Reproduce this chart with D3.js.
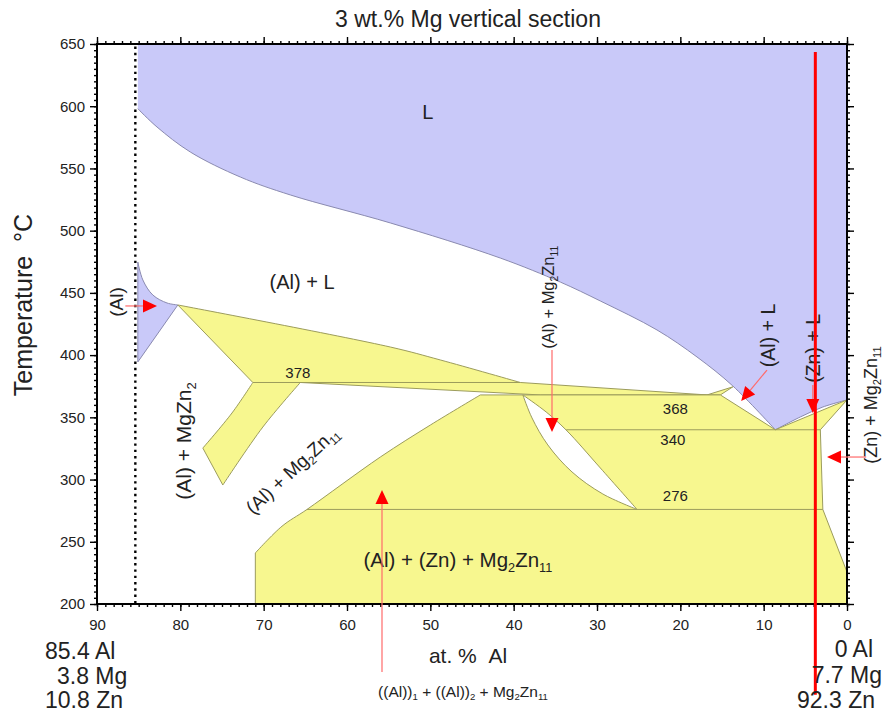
<!DOCTYPE html>
<html>
<head>
<meta charset="utf-8">
<script src="https://cdn.jsdelivr.net/npm/d3@7"></script>
<style>
  body { margin: 0; background: #fff; }
  svg { font-family: "Liberation Sans", Arial, sans-serif; }
</style>
</head>
<body>
<svg width="885" height="714"></svg>
<script>
window.addEventListener('DOMContentLoaded', function() {

// all points are [at.% Al, temperature °C]
const liquidusAl = [[85.1,598],[82.8,583.3],[78.8,563.2],[72.8,543.1],[66.8,528.7],[54.8,506.2],
  [41.6,478],[34.4,458.7],[29.6,443.5],[22.8,420.2],[18.0,398.5],[13.7,375.2],[8.6,340]]
const liquidusZn = [[8.6,340],[5.6,350.3],[2.9,358.3],[0,364]]
const alSolvusTop = [[85.1,474.8],[84.5,460.4],[83.3,448.3],[81.6,441.9],[80.3,440.3]]
const alSolvusLow = [[80.3,440.3],[85.1,394.5]]
const wedgeTop = [[80.3,440.3],[54.8,406.5],[48.8,396.1],[39.2,378]]
const stripLow = [[16.8,368],[36.8,368],[65.6,378]]
const branchIn = [[65.6,378],[70.1,342.2],[74.9,295.6]]
const branchOut = [[77.3,325.3],[73.8,353.5],[71.3,378]]
const smallTri = [[16.8,368],[13.7,374.5],[15.2,368]]
const lowerEdge = [[71.0,200],[71.0,241]]
const lowerLeft = [[71.0,241],[67.8,262.5],[64.8,276],[56.0,318.1],[50.0,343.8],[44.0,368]]
const lowerTop = [[44.0,368],[15.2,368],[8.6,340],[0,364],[3.2,340],[2.9,276],[0,225.7],[0,200]]
const lensLeft = [[38.9,368],[37.8,349.5],[35.9,327.8],[33.0,306.1],[29.3,288.4],[25.2,276]]
const lensRight = [[25.2,276],[29.6,309.3],[33.7,339.8],[36.1,354.3],[38.9,368]]
const isotherms = [[378,71.3,39.2],[340,33.7,3.2],[276,64.8,2.9]]
const alloyLine = 85.4
const sectionLine = [[3.8,643.6],[3.8,127]]

const xTicks = [90,80,70,60,50,40,30,20,10,0]
const yTicks = [200,250,300,350,400,450,500,550,600,650]

// [text, at.% Al, T, rotation, font size]
const regionLabels = [
  ['L',50.3,595.4,0,20],
  ['(Al) + L',65.4,458.7,0,20],
  ['(Al)',87.7,442.7,-90,19],
  ['(Al) + MgZn{2}',79.6,331,-90,21],
  ['(Al) + Mg{2}Zn{11}',66.6,307.7,-43,19],
  ['(Al) + (Zn) + Mg{2}Zn{11}',46.7,235.3,0,20.5],
  ['(Al) + Mg{2}Zn{11}',35.8,446.4,-90,16.5],
  ['(Al) + L',9.4,415.8,-90,19.5],
  ['(Zn) + L',4.1,405.4,-90,19.5],
  ['(Zn) + Mg{2}Zn{11}',-2.8,359.9,-90,18]
]
const tempLabels = [['378',65.9,385.6],['368',20.6,357.1],['340',20.9,331.8],['276',20.6,286.8]]
// [from, to]
const arrows = [
  [[86.6,439.5],[82.8,439.5]],
  [[35.4,404.1],[35.4,338.2]],
  [[9.6,388],[12.7,363.1]],
  [[4.1,375.9],[4.1,353.4]],
  [[-2.3,318.1],[2.4,318.1]],
  [[55.8,145.3],[55.8,291.6]]
]

const svg = d3.select('svg')
const margin = { top: 44, right: 38, bottom: 110, left: 97 }
const width = +svg.attr('width')
const height = +svg.attr('height')

const x = d3.scaleLinear().domain([90, 0]).range([margin.left, width - margin.right])
const y = d3.scaleLinear().domain([200, 650]).range([height - margin.bottom, margin.top])

const blue = '#c9c9f9'
const yellow = '#f7f78f'
const olive = '#9c9c5c'

let pathFrom = (segs) => {
    return segs.map((s, i) => {
        let l = d3.line().x(d => x(d[0])).y(d => y(d[1]))
            .curve(s.c ? d3.curveCatmullRom.alpha(0.5) : d3.curveLinear)
        let p = l(s.p)
        return i ? p.replace(/^M/, 'L') : p
    }).join('') + 'Z'
}

let richText = (el, s, fs) => {
    let down = false
    s.split(/(\{[^}]*\})/).filter(t => t).forEach(t => {
        let sub = t[0] === '{'
        let ts = el.append('tspan').text(sub ? t.slice(1, -1) : t)
        if (sub) {
            ts.attr('font-size', fs * 0.62)
            if (!down) { ts.attr('dy', fs * 0.22); down = true }
        } else if (down) {
            ts.attr('dy', -fs * 0.22); down = false
        }
    })
}

// liquid
svg.append('path')
    .attr('d', pathFrom([
        { p: [[85.1, 650], [0, 650], [0, 364]] },
        { p: liquidusZn.slice().reverse(), c: true },
        { p: liquidusAl.slice().reverse(), c: true }
    ]))
    .attr('fill', blue)
svg.append('path').attr('d', d3.line().x(d => x(d[0])).y(d => y(d[1])).curve(d3.curveCatmullRom.alpha(0.5))(liquidusAl))
    .attr('fill', 'none').attr('stroke', '#8a8ab0').attr('stroke-width', 1)
svg.append('path').attr('d', d3.line().x(d => x(d[0])).y(d => y(d[1])).curve(d3.curveCatmullRom.alpha(0.5))(liquidusZn))
    .attr('fill', 'none').attr('stroke', '#8a8ab0').attr('stroke-width', 1)

// (Al)
svg.append('path')
    .attr('d', pathFrom([{ p: alSolvusTop, c: true }, { p: alSolvusLow }]))
    .attr('fill', blue).attr('stroke', '#8a8ab0').attr('stroke-width', 1)

// three phase regions
svg.append('path')
    .attr('d', pathFrom([
        { p: wedgeTop, c: true },
        { p: [[39.2, 378], [16.8, 368]] },
        { p: stripLow },
        { p: branchIn, c: true },
        { p: branchOut, c: true },
        { p: [[71.3, 378], [80.3, 440.3]] }
    ]))
    .attr('fill', yellow).attr('stroke', olive).attr('stroke-width', 1)

svg.append('path').attr('d', pathFrom([{ p: smallTri }]))
    .attr('fill', yellow).attr('stroke', olive).attr('stroke-width', 1)

svg.append('path')
    .attr('d', pathFrom([{ p: lowerEdge }, { p: lowerLeft, c: true }, { p: lowerTop }]))
    .attr('fill', yellow).attr('stroke', olive).attr('stroke-width', 1)

svg.append('path')
    .attr('d', pathFrom([{ p: lensLeft, c: true }, { p: lensRight, c: true }]))
    .attr('fill', '#fff').attr('stroke', olive).attr('stroke-width', 1)

svg.selectAll('line.iso').data(isotherms).enter().append('line')
    .attr('class', 'iso')
    .attr('x1', d => x(d[1])).attr('x2', d => x(d[2]))
    .attr('y1', d => y(d[0])).attr('y2', d => y(d[0]))
    .attr('stroke', olive).attr('stroke-width', 1)

// alloy composition
svg.append('line')
    .attr('x1', x(alloyLine)).attr('x2', x(alloyLine))
    .attr('y1', y(648)).attr('y2', y(200))
    .attr('stroke', '#000').attr('stroke-width', 2.4)
    .attr('stroke-dasharray', '2.4 3.9')

// axes
let axisStyle = (g) => {
    g.select('.domain').remove()
    g.selectAll('line').attr('stroke', '#000').attr('stroke-width', 1.4)
    g.selectAll('text').attr('font-size', 15).attr('fill', '#222').attr('font-family', 'Liberation Sans, Arial, sans-serif')
}
let bottom = height - margin.bottom
let right = width - margin.right

svg.append('g').attr('transform', 'translate(0,' + bottom + ')')
    .call(d3.axisBottom(x).tickValues(d3.range(0, 91, 1)).tickSize(3).tickFormat('')).call(axisStyle)
svg.append('g').attr('transform', 'translate(0,' + bottom + ')')
    .call(d3.axisBottom(x).tickValues(xTicks).tickSize(7).tickPadding(8).tickFormat(d3.format('d'))).call(axisStyle)
svg.append('g').attr('transform', 'translate(0,' + margin.top + ')')
    .call(d3.axisTop(x).tickValues(d3.range(0, 91, 1)).tickSize(3).tickFormat('')).call(axisStyle)
svg.append('g').attr('transform', 'translate(0,' + margin.top + ')')
    .call(d3.axisTop(x).tickValues(xTicks).tickSize(7).tickFormat('')).call(axisStyle)
svg.append('g').attr('transform', 'translate(' + margin.left + ',0)')
    .call(d3.axisLeft(y).tickValues(d3.range(200, 651, 5)).tickSize(3).tickFormat('')).call(axisStyle)
svg.append('g').attr('transform', 'translate(' + margin.left + ',0)')
    .call(d3.axisLeft(y).tickValues(yTicks).tickSize(7).tickPadding(5)).call(axisStyle)
svg.append('g').attr('transform', 'translate(' + right + ',0)')
    .call(d3.axisRight(y).tickValues(d3.range(200, 651, 5)).tickSize(3).tickFormat('')).call(axisStyle)
svg.append('g').attr('transform', 'translate(' + right + ',0)')
    .call(d3.axisRight(y).tickValues(yTicks).tickSize(7).tickFormat('')).call(axisStyle)

svg.append('rect')
    .attr('x', margin.left).attr('y', margin.top)
    .attr('width', right - margin.left).attr('height', bottom - margin.top)
    .attr('fill', 'none').attr('stroke', '#000').attr('stroke-width', 2)

// region labels
regionLabels.forEach(d => {
    let t = svg.append('text')
        .attr('transform', 'translate(' + x(d[1]) + ',' + y(d[2]) + ') rotate(' + d[3] + ')')
        .attr('text-anchor', 'middle')
        .attr('dy', '0.35em')
        .attr('font-size', d[4])
        .attr('fill', '#222')
    richText(t, d[0], d[4])
})

svg.selectAll('text.temp').data(tempLabels).enter().append('text')
    .attr('class', 'temp')
    .attr('x', d => x(d[1])).attr('y', d => y(d[2]))
    .attr('dy', '0.35em')
    .attr('text-anchor', 'middle')
    .attr('font-size', 15)
    .attr('fill', '#222')
    .text(d => d[0])

// arrows
arrows.forEach(a => {
    let x1 = x(a[0][0]), y1 = y(a[0][1]), x2 = x(a[1][0]), y2 = y(a[1][1])
    let ang = Math.atan2(y2 - y1, x2 - x1)
    let len = 14, hw = 6.5
    let bx = x2 - len * Math.cos(ang), by = y2 - len * Math.sin(ang)
    svg.append('line')
        .attr('x1', x1).attr('y1', y1).attr('x2', bx).attr('y2', by)
        .attr('stroke', '#ff6a6a').attr('stroke-width', 1.2)
    svg.append('path')
        .attr('d', 'M' + x2 + ',' + y2 +
            'L' + (bx + hw * Math.sin(ang)) + ',' + (by - hw * Math.cos(ang)) +
            'L' + (bx - hw * Math.sin(ang)) + ',' + (by + hw * Math.cos(ang)) + 'Z')
        .attr('fill', '#ff0000')
})

// section line
svg.append('line')
    .attr('x1', x(sectionLine[0][0])).attr('x2', x(sectionLine[1][0]))
    .attr('y1', y(sectionLine[0][1])).attr('y2', y(sectionLine[1][1]))
    .attr('stroke', '#ff0000').attr('stroke-width', 3)

// titles
svg.append('text')
    .attr('x', 468).attr('y', 27)
    .attr('text-anchor', 'middle')
    .attr('font-size', 23)
    .attr('fill', '#222')
    .text('3 wt.% Mg vertical section')

svg.append('text')
    .attr('transform', 'translate(32,305) rotate(-90)')
    .attr('text-anchor', 'middle')
    .attr('font-size', 25)
    .attr('fill', '#222')
    .text('Temperature\u00a0\u00a0°C')

svg.append('text')
    .attr('x', 468).attr('y', 663)
    .attr('text-anchor', 'middle')
    .attr('font-size', 21)
    .attr('fill', '#222')
    .text('at. %\u00a0\u00a0Al')

let bl = svg.append('text')
    .attr('x', 463).attr('y', 697)
    .attr('text-anchor', 'middle')
    .attr('font-size', 15.5)
    .attr('fill', '#222')
richText(bl, '((Al)){1} + ((Al)){2} + Mg{2}Zn{11}', 15.5)

const leftComp = [['85.4 Al', 45, 659], ['3.8 Mg', 57, 684], ['10.8 Zn', 45, 708]]
const rightComp = [['0 Al', 873, 657], ['7.7 Mg', 882, 683], ['92.3 Zn', 875, 708]]

svg.selectAll('text.lc').data(leftComp).enter().append('text')
    .attr('class', 'lc')
    .attr('x', d => d[1]).attr('y', d => d[2])
    .attr('font-size', 23).attr('fill', '#222')
    .text(d => d[0])

svg.selectAll('text.rc').data(rightComp).enter().append('text')
    .attr('class', 'rc')
    .attr('x', d => d[1]).attr('y', d => d[2])
    .attr('text-anchor', 'end')
    .attr('font-size', 23).attr('fill', '#222')
    .text(d => d[0])

})
</script>
</body>
</html>
